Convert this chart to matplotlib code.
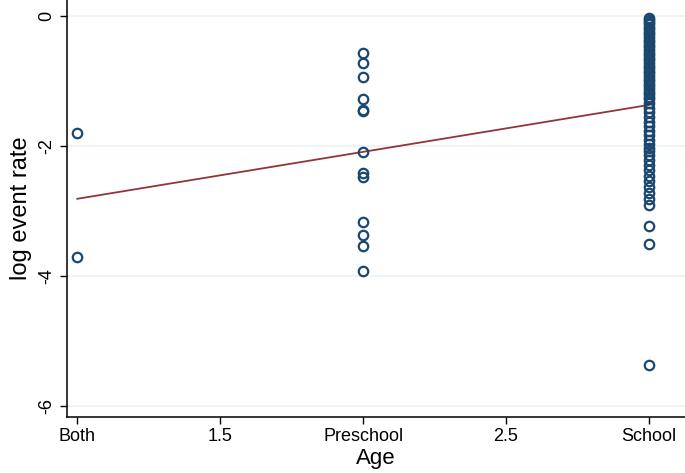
import numpy as np
import matplotlib
matplotlib.use('Agg')
import matplotlib.pyplot as plt

plt.rcParams['font.family'] = ['Liberation Sans', 'DejaVu Sans']

# Age groups: 1 = Both, 2 = Preschool, 3 = School
both_vals = [-1.80, -3.71]
preschool_vals = [-0.57, -0.73, -0.95, -1.29, -1.45, -1.47, -2.10, -2.42, -2.49,
                  -3.17, -3.38, -3.55, -3.93]
school_vals = [-0.04, -0.07, -0.10, -0.13, -0.17, -0.21, -0.25, -0.29, -0.33, -0.37,
               -0.41, -0.45, -0.49, -0.53, -0.57, -0.61, -0.65, -0.69, -0.73, -0.77,
               -0.81, -0.85, -0.89, -0.93, -0.97, -1.01, -1.05, -1.09, -1.13, -1.17,
               -1.21, -1.25, -1.29,
               -1.35, -1.42, -1.49, -1.56, -1.63, -1.70, -1.77, -1.84, -1.91, -1.97,
               -2.03, -2.09, -2.15, -2.22, -2.30, -2.38, -2.46, -2.55, -2.64, -2.73,
               -2.82, -2.92,
               -3.24, -3.52, -5.38]

x_ticks = [1, 1.5, 2, 2.5, 3]
x_labels = ['Both', '1.5', 'Preschool', '2.5', 'School']
y_ticks = [0, -2, -4, -6]

x = np.concatenate([np.full(len(both_vals), 1.0),
                    np.full(len(preschool_vals), 2.0),
                    np.full(len(school_vals), 3.0)])
y = np.concatenate([both_vals, preschool_vals, school_vals])

# linear fit
b, a = np.polyfit(x, y, 1)
xf = np.array([1.0, 3.0])

fig = plt.figure(figsize=(6.85, 4.73), dpi=100)
ax = fig.add_axes([0.0974, 0.119, 0.9026, 0.881])

for yt in y_ticks:
    ax.axhline(yt, color='#eaf2f3', linewidth=1.2, zorder=0)

ax.plot(x, y, linestyle='none', marker='o', markersize=6.8, markerfacecolor='none',
        markeredgecolor='#1a476f', markeredgewidth=1.6, zorder=3)
ax.plot(xf, a + b * xf, color='#90353b', linewidth=1.3, zorder=2)

ax.set_xlim(0.963, 3.126)
ax.set_ylim(-6.17, 0.24)
ax.set_xticks(x_ticks)
ax.set_xticklabels(x_labels)
ax.set_yticks(y_ticks)
ax.set_yticklabels([str(v) for v in y_ticks], rotation=90, va='center')
ax.tick_params(axis='both', labelsize=13, length=5, width=1, direction='out')
ax.tick_params(axis='x', pad=3)

ax.spines['top'].set_visible(False)
ax.spines['right'].set_visible(False)
ax.spines['left'].set_linewidth(1.1)
ax.spines['bottom'].set_linewidth(1.1)

ax.set_xlabel('Age', fontsize=16, labelpad=2)
ax.set_ylabel('log event rate', fontsize=17, labelpad=4)

fig.savefig('out.png', dpi=100)
